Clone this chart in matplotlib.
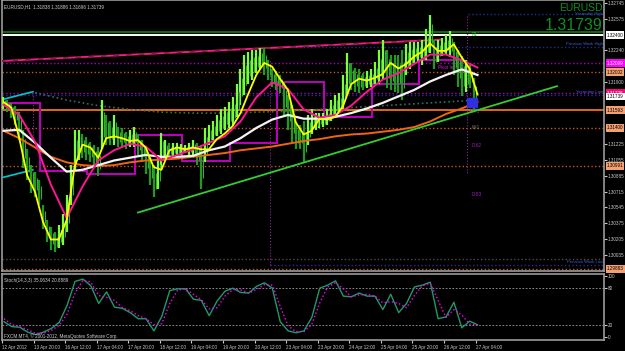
import numpy as np
import matplotlib
matplotlib.use('Agg')
import matplotlib.pyplot as plt
from matplotlib.transforms import blended_transform_factory

# EURUSD H1, one entry for every second hourly bar (high / low)
bar_hi = [1.3173, 1.3170, 1.3167, 1.3164, 1.3157, 1.3138, 1.3117, 1.3100, 1.3093, 1.3084,
          1.3057, 1.3041, 1.3033, 1.3028, 1.3036, 1.3047, 1.3068, 1.3100, 1.3138, 1.3138,
          1.3133, 1.3130, 1.3125, 1.3122, 1.3119, 1.3170, 1.3154, 1.3147, 1.3154, 1.3141,
          1.3140, 1.3136, 1.3138, 1.3141, 1.3133, 1.3127, 1.3119, 1.3108, 1.3100, 1.3111,
          1.3135, 1.3127, 1.3124, 1.3124, 1.3124, 1.3123, 1.3122, 1.3124, 1.3127, 1.3124,
          1.3122, 1.3140, 1.3143, 1.3147, 1.3154, 1.3160, 1.3163, 1.3168, 1.3173, 1.3187,
          1.3203, 1.3219, 1.3222, 1.3224, 1.3224, 1.3226, 1.3226, 1.3213, 1.3203, 1.3201,
          1.3197, 1.3190, 1.3176, 1.3165, 1.3146, 1.3143, 1.3147, 1.3154, 1.3160, 1.3156,
          1.3156, 1.3156, 1.3160, 1.3170, 1.3176, 1.3178, 1.3197, 1.3221, 1.3210, 1.3205,
          1.3203, 1.3199, 1.3201, 1.3203, 1.3211, 1.3224, 1.3235, 1.3224, 1.3219, 1.3219,
          1.3219, 1.3224, 1.3230, 1.3232, 1.3232, 1.3232, 1.3235, 1.3246, 1.3262, 1.3235,
          1.3235, 1.3237, 1.3240, 1.3244, 1.3232, 1.3224, 1.3217, 1.3213, 1.3208, 1.3194]
bar_lo = [1.3160, 1.3157, 1.3151, 1.3143, 1.3127, 1.3097, 1.3084, 1.3070, 1.3066, 1.3057,
          1.3031, 1.3017, 1.3009, 1.3007, 1.3011, 1.3014, 1.3028, 1.3057, 1.3095, 1.3106,
          1.3108, 1.3106, 1.3103, 1.3097, 1.3088, 1.3117, 1.3122, 1.3122, 1.3122, 1.3120,
          1.3120, 1.3117, 1.3119, 1.3120, 1.3111, 1.3104, 1.3090, 1.3079, 1.3066, 1.3074,
          1.3097, 1.3106, 1.3108, 1.3109, 1.3109, 1.3111, 1.3113, 1.3111, 1.3109, 1.3100,
          1.3074, 1.3103, 1.3122, 1.3127, 1.3131, 1.3133, 1.3138, 1.3140, 1.3143, 1.3152,
          1.3165, 1.3176, 1.3187, 1.3192, 1.3199, 1.3203, 1.3197, 1.3192, 1.3184, 1.3181,
          1.3178, 1.3154, 1.3138, 1.3124, 1.3117, 1.3117, 1.3103, 1.3122, 1.3133, 1.3138,
          1.3140, 1.3141, 1.3143, 1.3147, 1.3152, 1.3157, 1.3160, 1.3176, 1.3181, 1.3179,
          1.3178, 1.3181, 1.3183, 1.3184, 1.3187, 1.3187, 1.3192, 1.3183, 1.3181, 1.3179,
          1.3178, 1.3170, 1.3197, 1.3203, 1.3210, 1.3211, 1.3208, 1.3213, 1.3221, 1.3203,
          1.3211, 1.3217, 1.3219, 1.3216, 1.3197, 1.3184, 1.3174, 1.3179, 1.3183, 1.3157]

# moving averages
yellow_ma = [1.3168, 1.3162, 1.3129, 1.3089, 1.3071, 1.3039, 1.3020, 1.3020, 1.3041, 1.3098,
             1.3122, 1.3119, 1.3108, 1.3129, 1.3131, 1.3129, 1.3126, 1.3127, 1.3119, 1.3098,
             1.3095, 1.3116, 1.3119, 1.3117, 1.3119, 1.3117, 1.3117, 1.3128, 1.3134, 1.3142,
             1.3156, 1.3177, 1.3197, 1.3210, 1.3206, 1.3193, 1.3181, 1.3146, 1.3133, 1.3137,
             1.3150, 1.3149, 1.3152, 1.3164, 1.3187, 1.3193, 1.3191, 1.3194, 1.3198, 1.3210,
             1.3204, 1.3209, 1.3217, 1.3222, 1.3231, 1.3223, 1.3223, 1.3230, 1.3216, 1.3204,
             1.3176]
pink_ma = [1.3165, 1.3154, 1.3125, 1.3079, 1.3043, 1.3077, 1.3105, 1.3116, 1.3123, 1.3120,
           1.3105, 1.3111, 1.3117, 1.3124, 1.3131, 1.3147, 1.3173, 1.3189, 1.3182, 1.3160,
           1.3151, 1.3154, 1.3164, 1.3179, 1.3192, 1.3199, 1.3209, 1.3219, 1.3219, 1.3213,
           1.3205]
white_ma = [1.3137, 1.3138, 1.3124, 1.3108, 1.3093, 1.3095, 1.3100, 1.3105, 1.3108, 1.3111,
            1.3109, 1.3109, 1.3110, 1.3116, 1.3120, 1.3129, 1.3140, 1.3149, 1.3154, 1.3150,
            1.3150, 1.3152, 1.3156, 1.3161, 1.3167, 1.3174, 1.3181, 1.3190, 1.3197, 1.3203,
            1.3197]
orange_ma = [1.3137, 1.3129, 1.3119, 1.3109, 1.3103, 1.3100, 1.3099, 1.3100, 1.3103, 1.3105,
             1.3106, 1.3107, 1.3109, 1.3111, 1.3113, 1.3116, 1.3118, 1.3120, 1.3123, 1.3126,
             1.3128, 1.3131, 1.3133, 1.3134, 1.3136, 1.3138, 1.3141, 1.3147, 1.3155, 1.3161,
             1.3168]
dotted_ma = [1.3178, 1.3170, 1.3164, 1.3160, 1.3157, 1.3156, 1.3156, 1.3157, 1.3158, 1.3160,
             1.3162, 1.3164, 1.3166, 1.3168, 1.3170]

# daily step line (purple boxes)
step_edges = [0.25, 19.5, 43.5, 67.5, 91.5, 115.5, 139.5, 163.5, 187.5, 211.5, 232]
step_vals = [1.3167, 1.3094, 1.3090, 1.3132, 1.3104, 1.3124, 1.3189, 1.3152, 1.3187, 1.3213]

# Stochastic(14,3,3), every 4 bars
stoch_main = [25, 17, 16, 8, 4, 8, 14, 24, 52, 91, 95, 84, 55, 74, 49, 47, 40, 30, 30, 10,
              34, 76, 79, 79, 62, 60, 35, 59, 75, 80, 73, 72, 83, 89, 80, 25, 10, 7, 10, 32,
              80, 85, 92, 67, 66, 72, 67, 67, 45, 70, 40, 55, 82, 85, 90, 30, 33, 57, 15, 26,
              20]
stoch_sig = [30, 20, 17, 12, 6, 6, 11, 19, 38, 72, 93, 90, 68, 65, 60, 48, 43, 35, 30, 20,
             22, 55, 77, 79, 70, 61, 46, 48, 67, 78, 77, 72, 78, 86, 85, 50, 18, 9, 9, 21,
             56, 82, 89, 79, 66, 69, 70, 67, 56, 58, 55, 48, 68, 84, 88, 60, 32, 45, 36, 21,
             20]

time_labels = ['12 Apr 2012', '13 Apr 20:00', '16 Apr 12:00', '17 Apr 04:00', '17 Apr 20:00',
               '18 Apr 12:00', '19 Apr 04:00', '19 Apr 20:00', '20 Apr 12:00', '23 Apr 04:00',
               '23 Apr 20:00', '24 Apr 12:00', '25 Apr 04:00', '25 Apr 20:00', '26 Apr 12:00',
               '27 Apr 04:00']
price_ticks = [1.32745, 1.32575, 1.32240, 1.31900, 1.31225, 1.31055, 1.30885, 1.30715,
               1.30545, 1.30375, 1.30205, 1.30035]

# horizontal levels: price, colour, style, start bar
levels = [
    (1.32433, '#0a6e0a', '-', 0), (1.32400, '#ffffff', '-', 0),
    (1.32626, '#1f2f8f', ':', 236), (1.32271, '#1f2f8f', ':', 136),
    (1.32099, '#b000b0', ':', 0), (1.32002, '#c05a20', ':', 0),
    (1.31776, '#b000b0', ':', 0), (1.31755, '#1f2f8f', ':', 0),
    (1.31593, '#e06a10', '-', 0), (1.31400, '#c05a20', ':', 0),
    (1.30991, '#c05a20', ':', 0), (1.29990, '#5a4a3a', ':', 0),
    (1.29926, '#1f2f8f', ':', 136), (1.29883, '#c05a20', ':', 0),
]
boxes = [(1.32400, '1.32400', '#ffffff', 'black'), (1.32099, '1.32099', '#ff00ff', 'white'),
         (1.32002, '1.32002', '#f4a070', 'black'), (1.31776, '1.31776', '#ff0080', 'white'),
         (1.31739, '1.31739', '#ffffff', 'black'), (1.31593, '1.31593', '#f4a070', 'black'),
         (1.31400, '1.31400', '#f4a070', 'black'), (1.30991, '1.30991', '#f4a070', 'black'),
         (1.29883, '1.29883', '#f4a070', 'black')]

plt.rcParams['font.family'] = ['Liberation Sans', 'DejaVu Sans']

W, H = 625, 351
fig = plt.figure(figsize=(W / 100, H / 100), dpi=100, facecolor='black')
ax = fig.add_axes([2 / W, (H - 271) / H, 602 / W, 271 / H], facecolor='black')
ax2 = fig.add_axes([2 / W, (H - 340) / H, 602 / W, 66 / H], facecolor='black')

small = 3.3
xlim = (0.25, 305.06)
for a in (ax, ax2):
    a.set_xlim(*xlim)
    for s in a.spines.values():
        s.set_color('#9a9a9a')
        s.set_linewidth(1.2)
ax.set_ylim(1.29861, 1.32777)
ax2.set_ylim(-4.9, 103.3)

# horizontal levels
for p, c, ls, x0 in levels:
    ax.plot([x0, xlim[1]], [p, p], color=c, ls=ls, lw=1.0 if ls == ':' else 1.4, zorder=1)

# vertical session separators
for xv, y0, y1 in [(136, 1.29926, 1.3213), (235.7, 1.3092, 1.32626), (16, 1.3126, 1.3178)]:
    ax.plot([xv, xv], [y0, y1], color='#8a2a9a', ls=':', lw=0.8, zorder=1)

# trendlines
ax.plot([-0.76, 15.9], [1.3170, 1.3179], color='#00c8d0', lw=1.2, zorder=3)
ax.plot([-0.76, 15.9], [1.3086, 1.3095], color='#00c8d0', lw=1.2, zorder=3)
ax.plot([-0.76, 222], [1.3212, 1.3235], color='#ff1a8c', lw=1.3, zorder=3)
ax.plot([-0.76, 222], [1.3212, 1.3235], color='#8a1a3a', lw=1.3, ls=(0, (3, 4)), zorder=3)
ax.plot([69.1, 281.3], [1.3049, 1.3185], color='#33cc33', lw=1.3, zorder=6)

# step line
ax.stairs(step_vals, step_edges, baseline=None, color='#c000c0', lw=1.4, zorder=3)

# price bars
bar_idx = 1 + 2 * np.arange(len(bar_hi))
hi = np.array(bar_hi)
lo = np.array(bar_lo)
mid = (hi + lo) / 2
up = np.r_[True, mid[1:] >= mid[:-1]]
ax.vlines(bar_idx[up], lo[up], hi[up], colors='#7cff3a', lw=1.6, zorder=4)
ax.vlines(bar_idx[~up], lo[~up], hi[~up], colors='#1f9a1f', lw=1.6, zorder=4)
ax.vlines(bar_idx + 1, (lo + mid) / 2, (hi + mid) / 2, colors='#2fb02f', lw=0.8, zorder=4)

# moving averages
ax.plot(17 + 16 * np.arange(len(dotted_ma)), dotted_ma, color='#2f6f5f', ls=':', lw=1.2, zorder=3)
ax.plot(1 + 8 * np.arange(len(orange_ma)), orange_ma, color='#f06414', lw=1.4, zorder=5)
ax.plot(1 + 8 * np.arange(len(white_ma)), white_ma, color='#f4f4f4', lw=1.6, zorder=5)
ax.plot(1 + 8 * np.arange(len(pink_ma)), pink_ma, color='#ff1493', lw=1.4, zorder=5)
ax.plot(1 + 4 * np.arange(len(yellow_ma)), yellow_ma, color='#ffff00', lw=1.3, zorder=5)

# current bar marker
ax.add_patch(plt.Rectangle((235.5, 1.3163), 5.5, 0.0009, color='#3030e0', zorder=6))

# price axis
ax.yaxis.tick_right()
ax.set_yticks(price_ticks)
ax.set_yticklabels([f'{p:.5f}' for p in price_ticks])
ax.tick_params(axis='y', colors='#c8c8c8', labelsize=small, length=2, pad=1.0)
ax.set_xticks([])

tr = blended_transform_factory(ax.transAxes, ax.transData)
for p, t, bg, fg in boxes:
    ax.text(1.0045, p, t, transform=tr, fontsize=small, color=fg, va='center', ha='left',
            bbox=dict(boxstyle='square,pad=0.25', fc=bg, ec='none'), clip_on=False)

# chart texts
ax.text(0.003, 0.985, 'EURUSD,H1  1.31838 1.31886 1.31696 1.31739', transform=ax.transAxes,
        color='#d0d0d0', fontsize=small, va='top')
ax.text(0.998, 0.99, 'EURUSD', transform=ax.transAxes, color='#0f8f1f', fontsize=7.5,
        ha='right', va='top')
ax.text(0.998, 0.957, 'Yesterday High', transform=ax.transAxes, color='#3f5fcf', fontsize=3,
        ha='right', va='top')
ax.text(0.998, 0.935, '1.31739', transform=ax.transAxes, color='#0f8f1f', fontsize=11.5,
        ha='right', va='top')
ax.text(0.998, 1.32285, 'Previous Week High', transform=tr, color='#3f5fcf', fontsize=3,
        ha='right', va='bottom')
ax.text(0.998, 1.3177, 'Yesterday Low', transform=tr, color='#3f5fcf', fontsize=3,
        ha='right', va='bottom')
ax.text(0.998, 1.2994, 'Previous Week Low', transform=tr, color='#3f5fcf', fontsize=3,
        ha='right', va='bottom')
ax.text(221, 1.3205, 'Pivot level  1.3P', color='#d020d0', fontsize=small, va='center')
ax.text(238, 1.3241, 'R1', color='#30c030', fontsize=small, va='center')
ax.text(237, 1.3158, 'D-F1', color='#a020c0', fontsize=small, va='center')
ax.text(238, 1.3141, 'W-1', color='#808080', fontsize=small, va='center')
ax.text(238, 1.3121, 'D-62', color='#a020c0', fontsize=small, va='center')
ax.text(238, 1.3068, 'D-83', color='#a020c0', fontsize=small, va='center')

# stochastic
sx = 1 + 4 * np.arange(len(stoch_main))
ax2.axhline(80, color='#a0a0a0', ls=(0, (2, 2)), lw=0.6)
ax2.axhline(20, color='#a0a0a0', ls=(0, (2, 2)), lw=0.6)
ax2.plot(sx, stoch_main, color='#1f9a6a', lw=1.0)
ax2.plot(sx, stoch_sig, color='#ff00ff', ls=':', lw=1.0)
ax2.yaxis.tick_right()
ax2.set_yticks([100, 80, 20, 0])
ax2.tick_params(axis='y', colors='#c8c8c8', labelsize=small, length=2, pad=1.0)
ax2.set_xticks(16 * np.arange(len(time_labels)))
ax2.set_xticklabels(time_labels, ha='left')
ax2.tick_params(axis='x', colors='#c8c8c8', labelsize=small, length=2, pad=1.5)
ax2.text(0.003, 0.94, 'Stoch(14,3,3) 35.0634 20.8889', transform=ax2.transAxes,
         color='#d0d0d0', fontsize=small, va='top')
ax2.text(0.003, 0.02, 'FXCM MT4, \u00a9 2001-2012, MetaQuotes Software Corp.',
         transform=ax2.transAxes, color='#d0d0d0', fontsize=small, va='bottom')

fig.savefig('out.png', dpi=100, facecolor='black')
